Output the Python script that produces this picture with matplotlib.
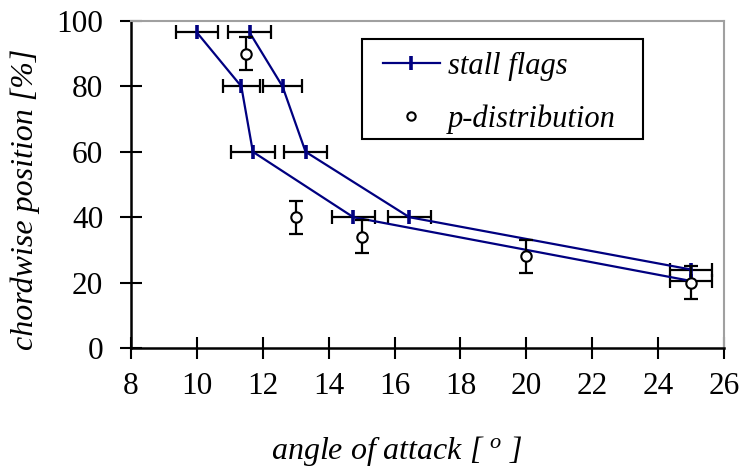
import matplotlib
matplotlib.use("Agg")
import matplotlib.pyplot as plt
from matplotlib.lines import Line2D
from matplotlib.patches import Rectangle

plt.rcParams['font.family'] = ['Liberation Serif', 'DejaVu Serif']
plt.rcParams['mathtext.fontset'] = 'custom'
plt.rcParams['mathtext.it'] = 'Liberation Serif:italic'
plt.rcParams['mathtext.rm'] = 'Liberation Serif'

# stall flags, two series
sf1_aoa = [10.0, 11.35, 11.7, 14.75, 25.0]
sf1_pos = [96.5, 80, 60, 40, 20.5]
sf1_err = [0.63, 0.56, 0.66, 0.66, 0.63]
sf2_aoa = [11.6, 12.6, 13.3, 16.45, 25.0]
sf2_pos = [96.5, 80, 60, 40, 24]
sf2_err = [0.65, 0.6, 0.64, 0.65, 0.63]

# p-distribution
pd_aoa = [11.5, 13.0, 15.0, 20.0, 25.0]
pd_pos = [90, 40, 34, 28, 20]
pd_err = [5, 5, 5, 5, 5]

xticks = [8, 10, 12, 14, 16, 18, 20, 22, 24, 26]
yticks = [0, 20, 40, 60, 80, 100]

navy = '#000080'
fs_tick = 22.5
fs_lab = 23
fs_leg = 22

fig = plt.figure(figsize=(7.42, 4.72), dpi=100)
ax = fig.add_axes([0.1765, 0.2627, 0.7992, 0.6928])

for xs, ys, es in [(sf1_aoa, sf1_pos, sf1_err), (sf2_aoa, sf2_pos, sf2_err)]:
    ax.errorbar(xs, ys, xerr=es, fmt='none', ecolor='black', elinewidth=1.6,
                capsize=4.8, capthick=1.6, zorder=2)
ax.plot(sf1_aoa, sf1_pos, color=navy, lw=1.6, marker='|', ms=9.5, mew=2.6,
        zorder=3, label='stall flags')
ax.plot(sf2_aoa, sf2_pos, color=navy, lw=1.6, marker='|', ms=9.5, mew=2.6,
        zorder=3)

ax.errorbar(pd_aoa, pd_pos, yerr=pd_err, fmt='none', ecolor='black',
            elinewidth=1.6, capsize=5.2, capthick=1.6, zorder=4)
ax.plot(pd_aoa, pd_pos, ls='none', marker='o', ms=7.5, mfc='white',
        mec='black', mew=1.5, zorder=5, label='p-distribution')

ax.set_xlim(8, 26)
ax.set_ylim(0, 100)
ax.set_xticks(xticks)
ax.set_yticks(yticks)
ax.tick_params(axis='both', direction='inout', length=16, width=1.5,
               labelsize=fs_tick, color='black')
ax.tick_params(axis='x', pad=9)
ax.tick_params(axis='y', pad=12)

for s in ['left', 'bottom']:
    ax.spines[s].set_linewidth(1.8)
    ax.spines[s].set_color('black')
for s in ['top', 'right']:
    ax.spines[s].set_linewidth(1.5)
    ax.spines[s].set_color('#a0a0a0')

ax.set_xlabel(r'angle of attack [ $^{o}$ ]', fontsize=fs_lab, style='italic',
              labelpad=24)
ax.xaxis.label.set_x(0.449)
ax.set_ylabel('chordwise position [%]', fontsize=fs_lab, style='italic',
              labelpad=12)
ax.yaxis.label.set_y(0.455)

# legend box
ax.add_patch(Rectangle((0.389, 0.639), 0.475, 0.305, transform=ax.transAxes,
                       facecolor='white', edgecolor='black', lw=1.5,
                       zorder=6))
handles = [Line2D([], [], color=navy, lw=1.6, marker='|', ms=9.5, mew=2.6),
           Line2D([], [], ls='none', marker='o', ms=6, mfc='white',
                  mec='black', mew=1.5)]
leg = ax.legend(handles, ['stall flags', 'p-distribution'],
                loc='upper left', bbox_to_anchor=(0.425, 0.905),
                borderaxespad=0, frameon=False, handlelength=1.85,
                handletextpad=0.28, borderpad=0, labelspacing=0.75,
                prop={'size': fs_leg, 'style': 'italic'})
leg.set_zorder(7)

fig.savefig('out.png', dpi=100)
